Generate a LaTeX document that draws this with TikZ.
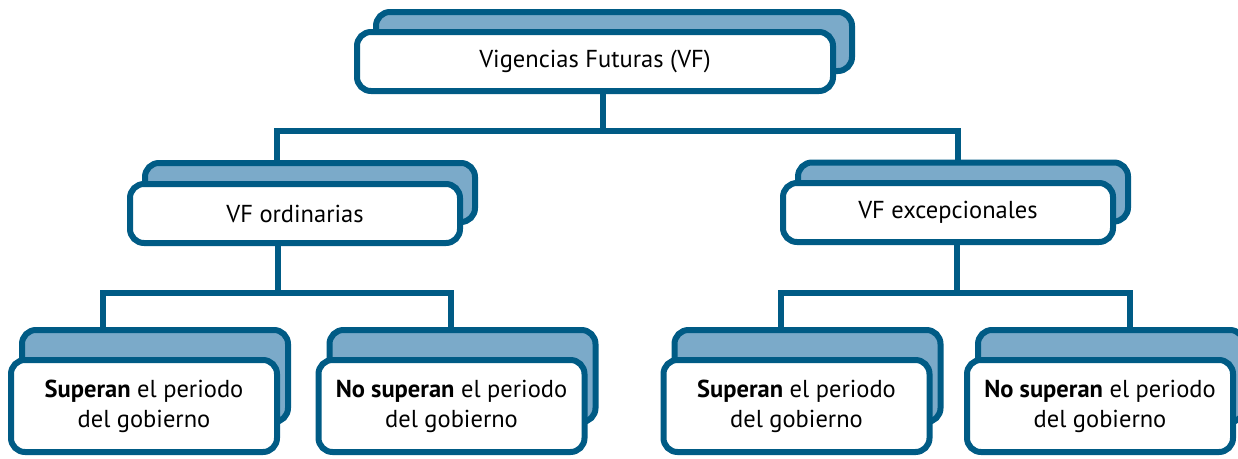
\documentclass[tikz,border=0pt]{standalone}
\usepackage{fontspec}
\setmainfont{PT Sans}
\definecolor{vfdark}{RGB}{0,91,133}
\definecolor{vflight}{RGB}{123,170,201}
\begin{document}
\begin{tikzpicture}[x=1pt,y=-1pt,
		backbox/.style={draw=vfdark, fill=vflight, line width=6pt, rounded corners=14pt, inner sep=0pt},
		frontbox/.style={draw=vfdark, fill=white, line width=6pt, rounded corners=14pt, inner sep=0pt,
			align=center, font=\fontsize{24.5}{30}\selectfont},
		topsize/.style={minimum width=476pt, minimum height=59pt},
		midsize/.style={minimum width=330pt, minimum height=59pt},
		lowsize/.style={minimum width=266pt, minimum height=92pt},
		conn/.style={draw=vfdark, line width=6pt}]
		\useasboundingbox (0,0) rectangle (1238,458);

		% top level
		\draw (614,41.5) node[backbox, topsize] (vfB) {};
		\draw (595,61.5) node[frontbox, topsize] (vf) {Vigencias Futuras (VF)};

		% second level
		\draw (310,192.5) node[backbox, midsize] (ordB) {};
		\draw (295,213.5) node[frontbox, midsize] (ord) {VF ordinarias};
		\draw (963,192) node[backbox, midsize] (excB) {};
		\draw (948,212.5) node[frontbox, midsize] (exc) {VF excepcionales};

		% third level
		\draw (155,376) node[backbox, lowsize] (sup1B) {};
		\draw (144,406) node[frontbox, lowsize] (sup1) {{\bfseries Superan} el periodo\\del gobierno};
		\draw (462.5,376) node[backbox, lowsize] (nos1B) {};
		\draw (451.5,406) node[frontbox, lowsize] (nos1) {{\bfseries No superan} el periodo\\del gobierno};
		\draw (807.5,376) node[backbox, lowsize] (sup2B) {};
		\draw (796.5,406) node[frontbox, lowsize] (sup2) {{\bfseries Superan} el periodo\\del gobierno};
		\draw (1111,376) node[backbox, lowsize] (nos2B) {};
		\draw (1100,406) node[frontbox, lowsize] (nos2) {{\bfseries No superan} el periodo\\del gobierno};

		% connectors
		\draw[conn] ([xshift=8pt]vf.south) -- ++(0,37) coordinate (vfj);
		\draw[conn] ([xshift=-33pt]ordB.north) |- (vfj) -| ([xshift=-5pt]excB.north);
		\draw[conn] ([xshift=-17pt]ord.south) -- ++(0,47) coordinate (ordj);
		\draw[conn] ([xshift=-52pt]sup1B.north) |- (ordj) -| ([xshift=-11.5pt]nos1B.north);
		\draw[conn] ([xshift=9pt]exc.south) -- ++(0,48) coordinate (excj);
		\draw[conn] ([xshift=-26.5pt]sup2B.north) |- (excj) -| ([xshift=19pt]nos2B.north);
	\end{tikzpicture}
\end{document}
